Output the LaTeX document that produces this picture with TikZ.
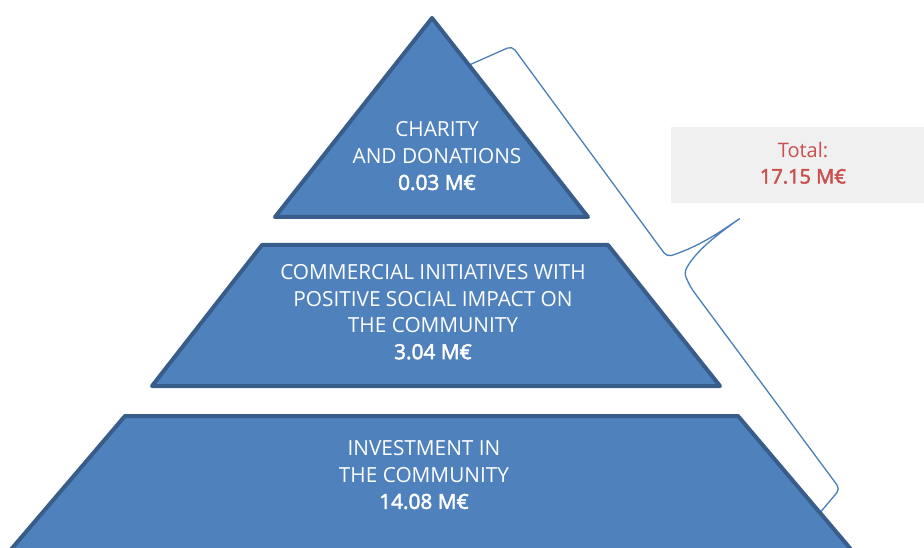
\documentclass[tikz,border=0pt]{standalone}
\usepackage{fontspec}
\setmainfont{Open Sans}
\newfontfamily\amtfont[FakeBold=2.5]{Open Sans}
\definecolor{pyrfill}{HTML}{4F81BD}
\definecolor{pyredge}{HTML}{385D8A}
\definecolor{bracecol}{HTML}{4A7EBB}
\definecolor{totfill}{HTML}{F0F0F0}
\definecolor{totred}{HTML}{C9504D}
\tikzset{
  tier/.style={fill=pyrfill, draw=pyredge, line width=4pt, line join=round},
  tiertext/.style={text=white, align=center, inner sep=0pt,
    font=\fontsize{20.8}{26.5}\selectfont},
  bracepath/.style={draw=bracecol, line width=1.3pt, line join=round, rounded corners=5pt},
  totbox/.style={fill=totfill, draw=none},
  tottext/.style={text=totred, align=center, inner sep=0pt,
    font=\fontsize{20}{26}\selectfont}
}
\begin{document}
\begin{tikzpicture}[x=1pt,y=-1pt]
\useasboundingbox (0,0) rectangle (924,548);
\clip (0,0) rectangle (924,548);
% brace (behind the tiers)
\draw[bracepath] (458,70) -- (512,46) -- (667,257)
  .. controls (700,246) and (720,232) .. (742,217)
  .. controls (715,236) and (695,252) .. (684,273)
  -- (691,288) -- (840,489) -- (813,521) -- (775,568);
% total box
\path[totbox] (671,127) rectangle (930,203);
\node[tottext] (total) at (803,163) {Total:\\{\amtfont 17.15 M€}};
% tiers
\path[tier] (432,18) -- (588,217) -- (275,217) -- cycle;
\path[tier] (262,245) -- (608,245) -- (720,386) -- (152,386) -- cycle;
\path[tier] (125,416) -- (738,416) -- (860,560) -- (2,560) -- cycle;
\node[tiertext] (charity) at (437,156) {CHARITY\\AND DONATIONS\\{\amtfont 0.03 M€}};
\node[tiertext] (commercial) at (433,312) {COMMERCIAL INITIATIVES WITH\\POSITIVE SOCIAL IMPACT ON\\THE COMMUNITY\\{\amtfont 3.04 M€}};
\node[tiertext] (investment) at (424,475) {INVESTMENT IN\\THE COMMUNITY\\{\amtfont 14.08 M€}};
\end{tikzpicture}
\end{document}
